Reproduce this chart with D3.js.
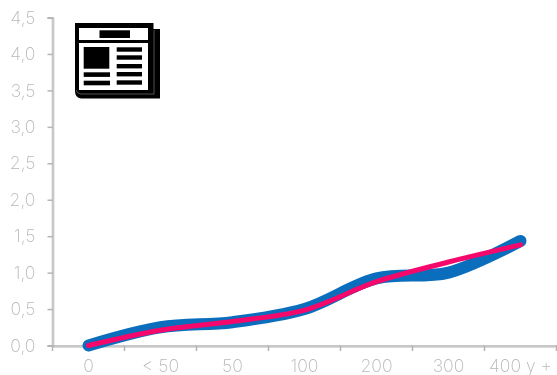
<!DOCTYPE html>
<html>
<head>
<meta charset="utf-8">
<script src="https://cdn.jsdelivr.net/npm/d3@7"></script>
<style>
html,body{margin:0;padding:0;background:#fff;}
svg{display:block;}
.labels text{font-family:"Inter","Open Sans",sans-serif;font-weight:200;fill:#b8b8b8;font-size:17.6px;}
</style>
</head>
<body>
<svg id="chart" width="557" height="375"></svg>
<script>
const categories = ["0", "< 50", "50", "100", "200", "300", "400 y +"];
const blueValues = [0, 0.25, 0.32, 0.5, 0.92, 1.0, 1.435];
const pinkValues = [0, 0.21, 0.33, 0.485, 0.875, 1.145, 1.38];
const yTicks = [0, 0.5, 1, 1.5, 2, 2.5, 3, 3.5, 4, 4.5];

const svg = d3.select("#chart");
const x = d3.scaleBand().domain(categories).range([52.5, 556.5]);
const y = d3.scaleLinear().domain([0, 4.5]).range([345.5, 17.5]);
const decimal = d3.formatLocale({decimal: ",", thousands: ".", grouping: [3], currency: ["", ""]}).format(".1f");

// Axes
const axisColor = "#b5b5b5";
const yAxis = svg.append("g").attr("class", "labels").attr("transform", "translate(52.5,0)")
  .call(d3.axisLeft(y).tickValues(yTicks).tickFormat(decimal).tickSize(5).tickPadding(12));
const xAxis = svg.append("g").attr("class", "labels").attr("transform", "translate(0,345.5)")
  .call(d3.axisBottom(x).tickSize(0).tickPadding(14));
svg.selectAll(".domain").attr("stroke", axisColor).attr("stroke-width", 2);
yAxis.selectAll("line").attr("stroke", axisColor).attr("stroke-width", 1.5);
svg.selectAll(".labels").attr("font-family", null).attr("font-size", null).style("opacity", 0.999);

// Tick marks sit on the band edges of the category axis
const edges = categories.map(c => x(c)).concat([x.range()[1]]);
svg.append("g").selectAll("line").data(edges).join("line")
  .attr("x1", d => d).attr("x2", d => d)
  .attr("y1", 345.5).attr("y2", 351)
  .attr("stroke", axisColor).attr("stroke-width", 1.5);

// Series
const line = d3.line()
  .x((d, i) => x(categories[i]) + x.bandwidth() / 2)
  .y(d => y(d))
  .curve(d3.curveCatmullRom.alpha(0.5));
svg.append("path").datum(blueValues).attr("d", line)
  .attr("fill", "none").attr("stroke", "#0a6ebd").attr("stroke-width", 12)
  .attr("stroke-linecap", "round").attr("stroke-linejoin", "round");
svg.append("path").datum(pinkValues).attr("d", line)
  .attr("fill", "none").attr("stroke", "#f5086b").attr("stroke-width", 5)
  .attr("stroke-linecap", "round").attr("stroke-linejoin", "round");

// Newspaper pictogram
const icon = svg.append("g").attr("fill", "#000");
icon.append("path").attr("fill-rule", "evenodd").attr("d",
  "M75 23H153.5V29H160V98.5H81Q75 98 75 91Z M79 28V40H148V28Z M79 43V90H148V43Z");
icon.append("path").attr("fill", "none").attr("stroke", "#888").attr("stroke-width", 0.6)
  .attr("d", "M154 30V94H81Q77 93.5 76 90");
icon.append("rect").attr("x", 99.5).attr("y", 30.3).attr("width", 30.5).attr("height", 7.7);
icon.append("rect").attr("x", 83.7).attr("y", 47).attr("width", 25.6).attr("height", 21.7);
[72.3, 80.7].forEach(b => icon.append("rect").attr("x", 83.7).attr("y", b).attr("width", 26.3).attr("height", 4.6));
[47.3, 55.3, 64, 72, 80.3].forEach(b => icon.append("rect").attr("x", 116.7).attr("y", b).attr("width", 25.3).attr("height", 4.4));
</script>
</body>
</html>
